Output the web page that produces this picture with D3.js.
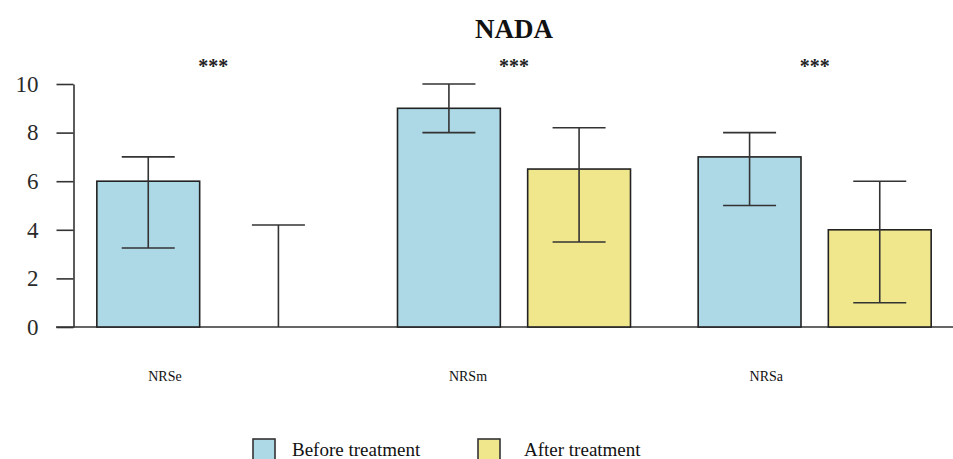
<!DOCTYPE html>
<html>
<head>
<meta charset="utf-8">
<script src="https://cdn.jsdelivr.net/npm/d3@7/dist/d3.min.js"></script>
<style>
  html, body { margin: 0; padding: 0; background: #fff; }
  svg { display: block; font-family: 'Liberation Serif', 'Times New Roman', serif; }
  svg text { font-family: 'Liberation Serif', 'Times New Roman', serif; }
</style>
</head>
<body>
<svg id="chart" width="953" height="459"></svg>
<script>
// Pain scores (NRS) before and after treatment
const categories = ["NRSe", "NRSm", "NRSa"];
const seriesKeys = ["before", "after"];
const seriesNames = ["Before treatment", "After treatment"];
const beforeMean = [6, 9, 7];
const beforeLow  = [3.25, 8, 5];
const beforeHigh = [7, 10, 8];
const afterMean  = [0, 6.5, 4];
const afterLow   = [0, 3.5, 1];
const afterHigh  = [4.2, 8.2, 6];
const significance = ["***", "***", "***"];
const yTicks = [0, 2, 4, 6, 8, 10];

const colors = { before: "#add8e6", after: "#f0e68c" };

const rows = [];
categories.forEach((c, i) => {
  rows.push({ cat: c, key: "before", mean: beforeMean[i], lo: beforeLow[i], hi: beforeHigh[i] });
  rows.push({ cat: c, key: "after",  mean: afterMean[i],  lo: afterLow[i],  hi: afterHigh[i] });
});

const svg = d3.select("#chart");

const x0 = d3.scaleBand().domain(categories).range([63, 965]);
const bw = x0.bandwidth();
const x1 = d3.scaleBand().domain(seriesKeys)
  .range([bw / 2 - 116.5, bw / 2 + 116.5]).paddingInner(0.21);
const y = d3.scaleLinear().domain([0, 10]).range([327, 84]);

// Title
svg.append("text")
  .attr("x", 514).attr("y", 38)
  .attr("text-anchor", "middle")
  .attr("font-size", 27).attr("font-weight", "bold")
  .attr("fill", "#111")
  .text("NADA");

// Y axis
const yAxis = svg.append("g")
  .attr("transform", "translate(73.5,0)")
  .call(d3.axisLeft(y).tickValues(yTicks).tickSize(17).tickSizeOuter(0).tickPadding(18));
yAxis.attr("font-family", null);
yAxis.select(".domain").attr("stroke", "#333").attr("stroke-width", 1.6);
yAxis.selectAll(".tick line").attr("stroke", "#333").attr("stroke-width", 1.6);
yAxis.selectAll(".tick text")
  .attr("font-size", 23).attr("fill", "#2a2a2a");

// Baseline
svg.append("line")
  .attr("x1", 56).attr("x2", 953)
  .attr("y1", y(0)).attr("y2", y(0))
  .attr("stroke", "#333").attr("stroke-width", 1.6);

const groups = svg.append("g").selectAll("g")
  .data(rows).join("g")
  .attr("transform", d => `translate(${x0(d.cat) + x1(d.key)},0)`);

// Bars
groups.filter(d => d.mean > 0).append("rect")
  .attr("x", 0).attr("width", x1.bandwidth())
  .attr("y", d => y(d.mean)).attr("height", d => y(0) - y(d.mean))
  .attr("fill", d => colors[d.key])
  .attr("stroke", "#222").attr("stroke-width", 1.6);

// Error bars
const capW = 53;
const cx = x1.bandwidth() / 2;
groups.append("line")
  .attr("x1", cx).attr("x2", cx)
  .attr("y1", d => y(d.lo)).attr("y2", d => y(d.hi))
  .attr("stroke", "#333").attr("stroke-width", 1.6);
groups.append("line")
  .attr("x1", cx - capW / 2).attr("x2", cx + capW / 2)
  .attr("y1", d => y(d.hi)).attr("y2", d => y(d.hi))
  .attr("stroke", "#333").attr("stroke-width", 1.6);
groups.filter(d => d.lo > 0).append("line")
  .attr("x1", cx - capW / 2).attr("x2", cx + capW / 2)
  .attr("y1", d => y(d.lo)).attr("y2", d => y(d.lo))
  .attr("stroke", "#333").attr("stroke-width", 1.6);

// Significance markers
svg.append("g").selectAll("text")
  .data(categories).join("text")
  .attr("x", d => x0(d) + bw / 2)
  .attr("y", 73)
  .attr("text-anchor", "middle")
  .attr("font-size", 20).attr("font-weight", "bold")
  .attr("fill", "#222")
  .text((d, i) => significance[i]);

// Category labels
svg.append("g").selectAll("text")
  .data(categories).join("text")
  .attr("x", d => x0(d) + x1("before") + x1.bandwidth() / 2)
  .attr("y", 381)
  .attr("font-size", 14).attr("fill", "#111")
  .text(d => d);

// Legend
const legendX = [253, 478];
const legend = svg.append("g").selectAll("g")
  .data(seriesKeys).join("g")
  .attr("transform", (d, i) => `translate(${legendX[i]},439)`);
legend.append("rect")
  .attr("width", 22).attr("height", 22)
  .attr("fill", d => colors[d])
  .attr("stroke", "#333").attr("stroke-width", 1.6);
legend.append("text")
  .attr("x", (d, i) => i === 0 ? 39 : 46)
  .attr("y", 17)
  .attr("font-size", 19).attr("fill", "#111")
  .text((d, i) => seriesNames[i]);
</script>
</body>
</html>
